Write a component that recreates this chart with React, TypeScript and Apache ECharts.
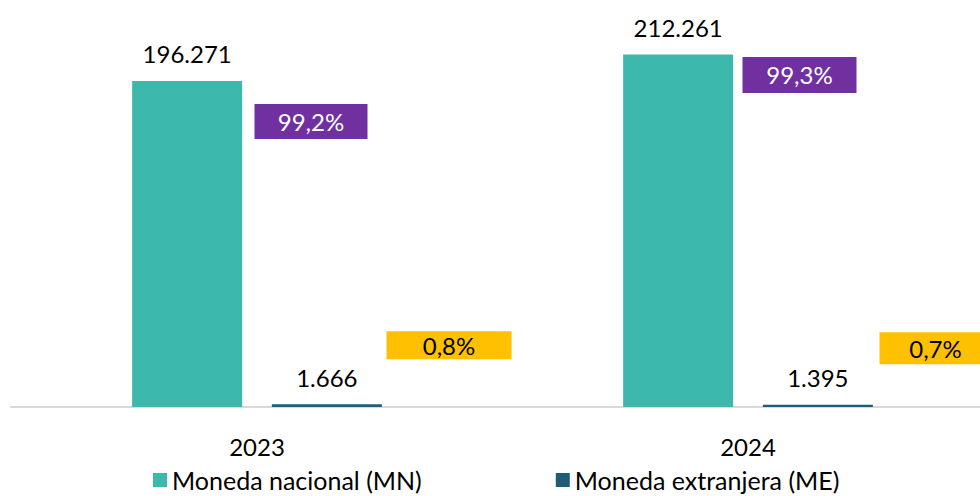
import React, { useEffect, useRef } from "react";
import * as echarts from "echarts";

const categories = ["2023", "2024"];
const seriesNames = ["Moneda nacional (MN)", "Moneda extranjera (ME)"];
const mnValues = [196271, 212261];
const meValues = [1666, 1395];
const mnShares = ["99,2%", "99,3%"];
const meShares = ["0,8%", "0,7%"];

const FONT = "Lato, 'Open Sans', sans-serif";
const fmt = (v: number) => String(v).replace(/\B(?=(\d{3})+(?!\d))/g, ".");

export default function App() {
  const ref = useRef<HTMLDivElement>(null);
  useEffect(() => {
    if (!ref.current) return;
    const chart = echarts.init(ref.current, undefined, { renderer: "svg" });
    const purpleOffsets = [
      [54, 40.5],
      [51.5, 20.6],
    ];
    const yellowOffsets = [
      [192, -59],
      [187.5, -56.5],
    ];
    const yellowSizes = [
      [125, 28],
      [112, 32],
    ];
    const purpleSizes = [
      [113, 35],
      [114, 36],
    ];
    const valueLabel = {
      show: true,
      position: "top",
      distance: 15,
      fontFamily: FONT,
      fontSize: 24,
      lineHeight: 24,
      color: "#000",
      formatter: (p: any) => fmt(p.value),
    };
    chart.setOption({
      animation: false,
      textStyle: { fontFamily: FONT },
      grid: [
        { left: 257, top: 0, right: 232, height: 407, containLabel: false },
        { left: 11, top: 0, right: 0, height: 407, containLabel: false },
      ],
      legend: {
        data: seriesNames,
        left: 148,
        top: 462,
        icon: "rect",
        itemWidth: 14,
        itemHeight: 14,
        itemGap: 134,
        textStyle: { fontFamily: FONT, fontSize: 25, color: "#000", lineHeight: 26 },
        selectedMode: false,
      },
      xAxis: [
        {
          type: "category",
          gridIndex: 0,
          data: categories,
          boundaryGap: false,
          axisLine: { show: false },
          axisTick: { show: false },
          splitLine: { show: false },
          axisLabel: { fontFamily: FONT, fontSize: 24, color: "#000", margin: 27, lineHeight: 24 },
        },
        {
          type: "value",
          gridIndex: 1,
          min: 0,
          max: 1,
          axisLine: { show: true, lineStyle: { color: "#d9d9d9", width: 2 } },
          axisTick: { show: false },
          axisLabel: { show: false },
          splitLine: { show: false },
        },
      ],
      yAxis: [
        {
          type: "value",
          gridIndex: 0,
          min: 0,
          max: 245000,
          show: false,
          splitLine: { show: false },
        },
        {
          type: "value",
          gridIndex: 1,
          min: 0,
          max: 1,
          show: false,
          splitLine: { show: false },
        },
      ],
      series: [
        {
          name: seriesNames[0],
          type: "bar",
          data: mnValues,
          barWidth: 110,
          barGap: "27%",
          clip: false,
          z: 3,
          itemStyle: { color: "#3cb8ac" },
          label: valueLabel,
        },
        {
          name: seriesNames[1],
          type: "bar",
          data: meValues,
          barWidth: 110,
          barGap: "27%",
          clip: false,
          z: 3,
          itemStyle: { color: "#1f5c7a" },
          label: valueLabel,
        },
        {
          name: "mnShare",
          type: "scatter",
          silent: true,
          clip: false,
          symbolSize: 1,
          itemStyle: { color: "rgba(0,0,0,0)", opacity: 1 },
          z: 5,
          data: mnValues.map((v, i) => ({
            value: v,
            label: {
              show: true,
              position: "inside",
              offset: purpleOffsets[i],
              formatter: mnShares[i],
              backgroundColor: "#7030a0",
              color: "#fff",
              fontFamily: FONT,
              fontSize: 24,
              width: purpleSizes[i][0],
              height: purpleSizes[i][1],
              lineHeight: purpleSizes[i][1],
              align: "center",
              verticalAlign: "middle",
              padding: 0,
            },
          })),
        },
        {
          name: "meShare",
          type: "scatter",
          silent: true,
          clip: false,
          symbolSize: 1,
          itemStyle: { color: "rgba(0,0,0,0)", opacity: 1 },
          z: 5,
          data: meValues.map((v, i) => ({
            value: v,
            label: {
              show: true,
              position: "inside",
              offset: yellowOffsets[i],
              formatter: meShares[i],
              backgroundColor: "#ffc000",
              color: "#000",
              fontFamily: FONT,
              fontSize: 24,
              width: yellowSizes[i][0],
              height: yellowSizes[i][1],
              lineHeight: yellowSizes[i][1],
              align: "center",
              verticalAlign: "middle",
              padding: 0,
            },
          })),
        },
      ],
    });
    return () => chart.dispose();
  }, []);
  return (
    <div
      ref={ref}
      style={{ position: "absolute", left: 0, top: 0, width: 980, height: 496 }}
    />
  );
}
